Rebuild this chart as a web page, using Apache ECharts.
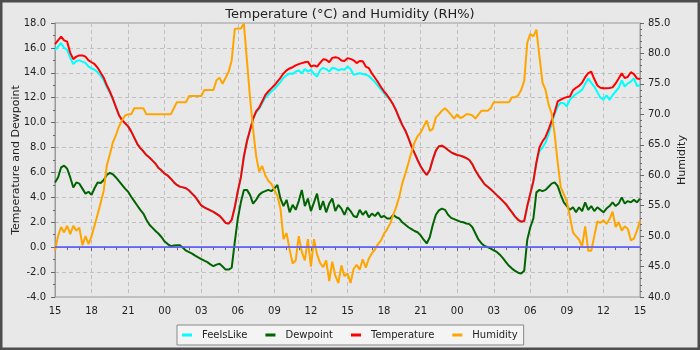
<!DOCTYPE html>
<html>
<head>
<meta charset="utf-8">
<script src="https://cdn.jsdelivr.net/npm/echarts@6/dist/echarts.min.js"></script>
<style>
  html, body { margin: 0; padding: 0; background: #e8e8e8; }
  #chart { width: 700px; height: 350px; }
</style>
</head>
<body>
<div id="chart"></div>
<script>
// Hour labels along the bottom axis, one every 3 hours (15:00 to 15:00 two days later)
const xTickLabels = ['15','18','21','00','03','06','09','12','15','18','21','00','03','06','09','12','15'];
// Readings are logged every 15 minutes
const sampleStepHours = 0.25;

// Air temperature, °C
const temperature = [
  16.3,16.6,16.9,16.6,16.5,15.6,15.1,15.3,15.4,15.4,
  15.3,15.0,14.85,14.7,14.4,14.0,13.6,13.0,12.5,11.9,
  11.25,10.6,10.2,9.95,9.7,9.3,8.8,8.3,7.95,7.7,
  7.4,7.2,6.95,6.7,6.35,6.15,5.9,5.75,5.5,5.22,
  5.0,4.86,4.8,4.73,4.55,4.3,4.05,3.7,3.35,3.2,
  3.08,2.95,2.84,2.68,2.52,2.25,1.95,1.9,2.2,3.2,
  4.5,5.6,7.3,8.5,9.4,10.3,10.9,11.2,11.7,12.2,
  12.5,12.75,13.0,13.3,13.6,13.95,14.2,14.35,14.45,14.6,
  14.7,14.78,14.85,14.9,14.5,14.6,14.5,14.8,15.08,15.05,
  14.85,15.2,15.25,15.2,14.98,14.95,15.18,15.12,15.0,14.78,
  14.95,14.92,14.5,14.38,13.95,13.6,13.25,12.85,12.5,12.2,
  11.85,11.45,10.95,10.35,9.8,9.35,8.75,8.1,7.55,7.0,
  6.5,6.1,5.8,6.2,7.05,7.75,8.1,8.15,8.0,7.8,
  7.62,7.5,7.4,7.35,7.26,7.15,7.0,6.65,6.15,5.75,
  5.4,5.05,4.85,4.65,4.42,4.18,3.95,3.7,3.45,3.12,
  2.8,2.45,2.2,2.05,2.1,3.3,4.3,5.3,6.8,8.0,
  8.5,8.85,9.45,10.15,10.85,11.7,11.85,11.97,12.05,12.1,
  12.6,12.8,12.95,13.2,13.65,13.98,14.1,13.5,12.98,12.8,
  12.77,12.77,12.78,12.83,13.15,13.55,13.97,13.58,13.68,14.05,
  13.9,13.55,13.5
];

// Apparent ("feels like") temperature, °C
const feelsLike = [
  15.8,16.1,16.4,16.0,15.85,15.2,14.7,14.95,15.0,14.9,
  14.8,14.5,14.35,14.25,14.05,13.75,13.4,12.85,12.4,11.85,
  11.25,10.6,10.2,9.95,9.7,9.3,8.8,8.3,7.95,7.7,
  7.4,7.2,6.95,6.7,6.35,6.15,5.9,5.75,5.5,5.22,
  5.0,4.86,4.8,4.73,4.55,4.3,4.05,3.7,3.35,3.2,
  3.08,2.95,2.84,2.68,2.52,2.25,1.95,1.9,2.2,3.2,
  4.5,5.6,7.3,8.5,9.4,10.3,10.8,11.1,11.55,12.0,
  12.25,12.5,12.7,13.0,13.25,13.6,13.8,13.95,13.9,14.1,
  14.2,13.95,14.3,14.1,14.25,13.9,13.7,14.2,14.4,14.3,
  14.1,14.4,14.35,14.2,14.3,14.25,14.5,14.3,13.85,13.9,
  13.97,13.9,13.85,13.75,13.5,13.25,12.95,12.65,12.35,12.1,
  11.8,11.45,10.95,10.35,9.8,9.35,8.75,8.1,7.55,7.0,
  6.5,6.1,5.8,6.2,7.05,7.75,8.1,8.15,8.0,7.8,
  7.62,7.5,7.4,7.35,7.26,7.15,7.0,6.65,6.15,5.75,
  5.4,5.05,4.85,4.65,4.42,4.18,3.95,3.7,3.45,3.12,
  2.8,2.45,2.2,2.05,2.1,3.3,4.3,5.3,6.8,7.7,
  8.0,8.4,9.1,9.9,10.7,11.3,11.6,11.55,11.3,11.85,
  12.1,12.3,12.45,12.65,13.1,13.55,13.2,12.9,12.45,12.0,
  11.85,12.2,11.82,12.2,12.5,12.8,13.4,12.9,13.15,13.3,
  13.55,12.95,13.0
];

// Dew point, °C
const dewpoint = [
  5.2,5.6,6.4,6.55,6.3,5.6,4.8,5.2,5.1,4.7,
  4.3,4.45,4.2,4.75,5.2,5.15,5.4,5.8,5.97,5.85,
  5.6,5.3,5.0,4.7,4.45,4.05,3.7,3.35,3.0,2.7,
  2.2,1.8,1.55,1.3,1.08,0.8,0.45,0.25,0.08,0.14,
  0.16,0.16,-0.05,-0.28,-0.4,-0.52,-0.68,-0.82,-0.95,-1.08,
  -1.2,-1.38,-1.53,-1.4,-1.33,-1.55,-1.8,-1.8,-1.65,0.4,
  2.3,3.6,4.6,4.6,4.2,3.5,3.8,4.2,4.4,4.5,
  4.6,4.5,4.7,5.0,3.9,3.3,3.8,2.8,3.4,3.0,
  3.7,4.6,3.3,3.9,2.9,3.6,4.3,3.0,3.7,2.8,
  3.5,3.9,2.9,3.4,3.1,2.6,3.2,2.9,2.5,2.4,
  3.0,2.6,2.9,2.4,2.7,2.5,2.8,2.4,2.5,2.3,
  2.3,2.6,2.4,2.3,2.0,1.8,1.6,1.45,1.3,1.2,
  0.95,0.6,0.3,0.8,1.8,2.6,2.95,3.1,3.0,2.6,
  2.35,2.25,2.15,2.05,2.0,1.9,1.85,1.6,1.1,0.6,
  0.3,0.1,0.0,-0.12,-0.25,-0.38,-0.6,-0.88,-1.2,-1.5,
  -1.72,-1.9,-2.05,-2.12,-1.9,0.6,1.6,2.3,4.4,4.6,
  4.5,4.6,4.85,5.1,5.2,4.9,4.2,3.6,3.3,3.0,
  3.2,2.8,3.2,2.9,3.6,3.0,3.3,2.9,3.2,3.0,
  2.8,3.1,3.3,3.6,3.3,3.5,4.0,3.5,3.7,3.6,
  3.8,3.6,3.9
];

// Relative humidity, %
const humidity = [
  47.6,50.0,51.5,50.6,51.7,50.3,51.7,50.9,51.4,48.5,
  50.0,48.7,50.0,51.8,53.6,55.5,57.5,61.6,63.4,65.4,
  66.6,68.0,69.0,69.8,70,70,71,71,71,71,
  70,70,70,70,70,70,70,70,70,71,
  72,72,72,72,73,73,73,73,73,74,
  74,74,74,75.6,76,75,76,77,78.9,84.0,
  84.1,84.1,84.9,78.8,72.8,67.6,63.2,60.6,61.5,60.0,
  59.1,58.6,57.6,56.6,54.5,49.5,50.5,47.8,45.5,46.0,
  50.0,47.4,46.0,49.5,45.0,49.5,47.0,45.6,44.9,46.0,
  42.6,45.8,43.5,42.3,45.2,43.4,43.9,42.3,44.6,45.3,
  44.5,46.2,44.8,46.3,47.2,47.8,48.7,49.3,50.4,51.1,
  52.1,53.5,54.8,56.5,58.7,60.3,62.0,63.8,65.4,66.4,
  67.0,68.0,69.0,67.3,67.6,69.5,70.0,70.6,71,70.5,
  69.9,69.3,70,69.4,69.6,70,70,69.8,69.3,70,
  70.6,70.6,70.6,71.0,72,72,72,72,72,72,
  72.8,72.8,73.1,74.0,75.5,81.8,83.2,82.8,83.9,79.5,
  75.2,74.0,71.6,70.1,66.7,62.0,58.0,56.9,55.6,53.2,
  50.6,50.0,49.4,48.3,51.6,47.6,47.6,50.0,52.4,52.2,
  52.6,52.0,52.8,54.0,51.5,52.3,50.9,51.6,51.2,49.3,
  49.6,50.9,52.5
];

const FONT = 'DejaVu Sans';
const TEXT = '#222';
const FRAME = '#999';
const TICK = '#666';

const times = temperature.map((_, i) => i * sampleStepHours);
const asPoints = values => values.map((v, i) => [times[i], v]);

const chart = echarts.init(document.getElementById('chart'), null, { renderer: 'canvas' });

const lineSeries = (name, values, color, axis) => ({
  name,
  type: 'line',
  yAxisIndex: axis,
  data: asPoints(values),
  showSymbol: false,
  symbol: 'none',
  lineStyle: { color, width: 2 },
  itemStyle: { color },
  emphasis: { disabled: true }
});

chart.setOption({
  backgroundColor: '#e8e8e8',
  animation: false,
  title: {
    text: 'Temperature (°C) and Humidity (RH%)',
    left: 'center',
    top: 3,
    textStyle: { fontFamily: FONT, fontSize: 13, fontWeight: 'normal', color: TEXT }
  },
  grid: {
    left: 55, right: 60, top: 23, bottom: 53,
    containLabel: false, outerBoundsMode: 'none',
    show: true, borderColor: FRAME, borderWidth: 1, backgroundColor: 'transparent'
  },
  legend: {
    data: ['FeelsLike', 'Dewpoint', 'Temperature', 'Humidity'],
    left: 177, top: 325,
    icon: 'rect', itemWidth: 10, itemHeight: 3, itemGap: 18,
    padding: [5, 6, 5, 5],
    backgroundColor: '#f4f4f4', borderColor: '#888', borderWidth: 1,
    textStyle: { fontFamily: FONT, fontSize: 10, color: TEXT, padding: [0, 0, 0, 5] }
  },
  xAxis: {
    type: 'value', min: 0, max: 48, interval: 3,
    axisLine: { show: true, lineStyle: { color: FRAME } },
    axisTick: { show: true, length: 4, lineStyle: { color: TICK } },
    minorTick: { show: true, splitNumber: 3, length: 3, lineStyle: { color: TICK } },
    axisLabel: {
      formatter: v => xTickLabels[Math.round(v / 3)],
      fontFamily: FONT, fontSize: 10, color: TEXT, margin: 9
    },
    splitLine: { show: true, lineStyle: { color: '#c0c0c0', type: [4, 3], width: 1 } }
  },
  yAxis: [
    {
      type: 'value', min: -4, max: 18, interval: 2,
      name: 'Temperature and Dewpoint', nameLocation: 'middle', nameGap: 33,
      nameMoveOverlap: false,
      nameTextStyle: { fontFamily: FONT, fontSize: 11, color: TEXT },
      axisLine: { show: true, lineStyle: { color: FRAME } },
      axisTick: { show: true, length: 4, lineStyle: { color: TICK } },
      minorTick: { show: true, splitNumber: 2, length: 2, lineStyle: { color: TICK } },
      axisLabel: { formatter: v => v.toFixed(1), fontFamily: FONT, fontSize: 10, color: TEXT, margin: 9 },
      splitLine: { show: true, lineStyle: { color: '#c0c0c0', type: [4, 3], width: 1 } }
    },
    {
      type: 'value', min: 40, max: 85, interval: 5, position: 'right',
      name: 'Humidity', nameLocation: 'middle', nameGap: 37,
      nameMoveOverlap: false,
      nameTextStyle: { fontFamily: FONT, fontSize: 11, color: TEXT },
      axisLine: { show: true, lineStyle: { color: FRAME } },
      axisTick: { show: true, length: 4, lineStyle: { color: TICK } },
      minorTick: { show: true, splitNumber: 5, length: 2, lineStyle: { color: TICK } },
      axisLabel: { formatter: v => v.toFixed(1), fontFamily: FONT, fontSize: 10, color: TEXT, margin: 8 },
      splitLine: { show: false }
    }
  ],
  series: [
    lineSeries('FeelsLike', feelsLike, '#00ffff', 0),
    lineSeries('Dewpoint', dewpoint, '#006400', 0),
    lineSeries('Temperature', temperature, '#ff0000', 0),
    lineSeries('Humidity', humidity, '#ffa500', 1),
    {
      // freezing-point reference line
      name: 'zero', type: 'line', yAxisIndex: 0, data: [], z: 5, silent: true,
      markLine: {
        silent: true, symbol: 'none', label: { show: false },
        lineStyle: { color: 'rgba(90,90,255,0.8)', width: 2, type: 'solid' },
        data: [{ yAxis: 0 }]
      }
    }
  ],
  graphic: [{
    type: 'rect', silent: true, z: 100,
    shape: { x: 0, y: 0, width: 700, height: 350 },
    style: { fill: 'none', stroke: '#4d4d4d', lineWidth: 5 }
  }]
});
</script>
</body>
</html>
